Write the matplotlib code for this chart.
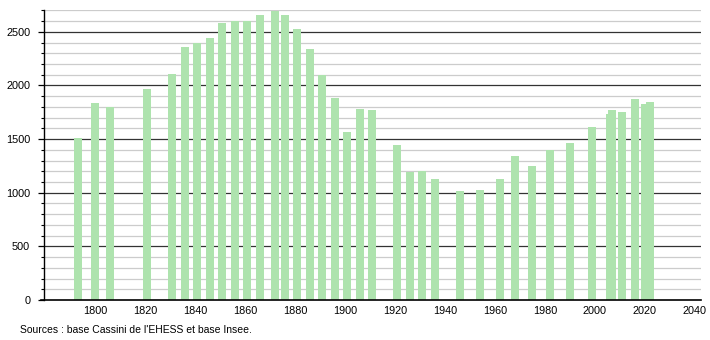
import matplotlib
matplotlib.use("Agg")
import matplotlib.pyplot as plt
from matplotlib.ticker import MultipleLocator

years = [1793, 1800, 1806, 1821, 1831, 1836, 1841, 1846, 1851, 1856, 1861, 1866,
         1872, 1876, 1881, 1886, 1891, 1896, 1901, 1906, 1911, 1921, 1926, 1931,
         1936, 1946, 1954, 1962, 1968, 1975, 1982, 1990, 1999, 2006, 2007, 2011,
         2016, 2020, 2022]
population = [1510, 1837, 1800, 1971, 2111, 2354, 2400, 2438, 2581, 2603, 2596, 2655,
              2690, 2655, 2522, 2335, 2098, 1880, 1569, 1784, 1775, 1441, 1195, 1205,
              1130, 1018, 1027, 1130, 1339, 1245, 1401, 1466, 1614, 1734, 1775, 1749,
              1877, 1829, 1849]
x_ticks = [1800, 1820, 1840, 1860, 1880, 1900, 1920, 1940, 1960, 1980, 2000, 2020, 2040]
y_ticks = [0, 500, 1000, 1500, 2000, 2500]
source_text = "Sources : base Cassini de l'EHESS et base Insee."

plt.rcParams['font.family'] = ['Liberation Sans', 'DejaVu Sans']

fig = plt.figure(figsize=(7.1, 3.4), dpi=100)
ax = fig.add_axes([0.062, 0.1176, 0.925, 0.852])

ax.set_xlim(1779.6, 2042.4)
ax.set_ylim(0, 2700)

# grid lines
for v in range(100, 2701, 100):
    if v % 500 == 0:
        ax.axhline(v, color='#333333', lw=0.9, zorder=1)
    else:
        ax.axhline(v, color='#cccccc', lw=0.9, zorder=1)

ax.bar(years, population, width=3.2, color='#aee3ae', zorder=2, linewidth=0)

for s in ['top', 'right']:
    ax.spines[s].set_visible(False)
ax.spines['left'].set_color('black')
ax.spines['bottom'].set_color('black')
ax.spines['left'].set_linewidth(1.0)
ax.spines['bottom'].set_linewidth(1.2)
ax.spines['bottom'].set_bounds(1778.4, 2042.4)

ax.set_xticks(x_ticks)
ax.set_xticklabels([str(t) for t in x_ticks])
ax.set_yticks(y_ticks)
ax.set_yticklabels([str(t) for t in y_ticks])
ax.yaxis.set_minor_locator(MultipleLocator(100))
ax.tick_params(axis='x', length=0, pad=4, labelsize=7.8)
ax.tick_params(axis='y', which='major', length=4, width=0.9, pad=6, labelsize=7.8)
ax.tick_params(axis='y', which='minor', length=2.5, width=0.8)

fig.text(20 / 710, 1 - 330 / 340, source_text, fontsize=7.5, ha='left', va='center')

fig.savefig('out.png', dpi=100)
